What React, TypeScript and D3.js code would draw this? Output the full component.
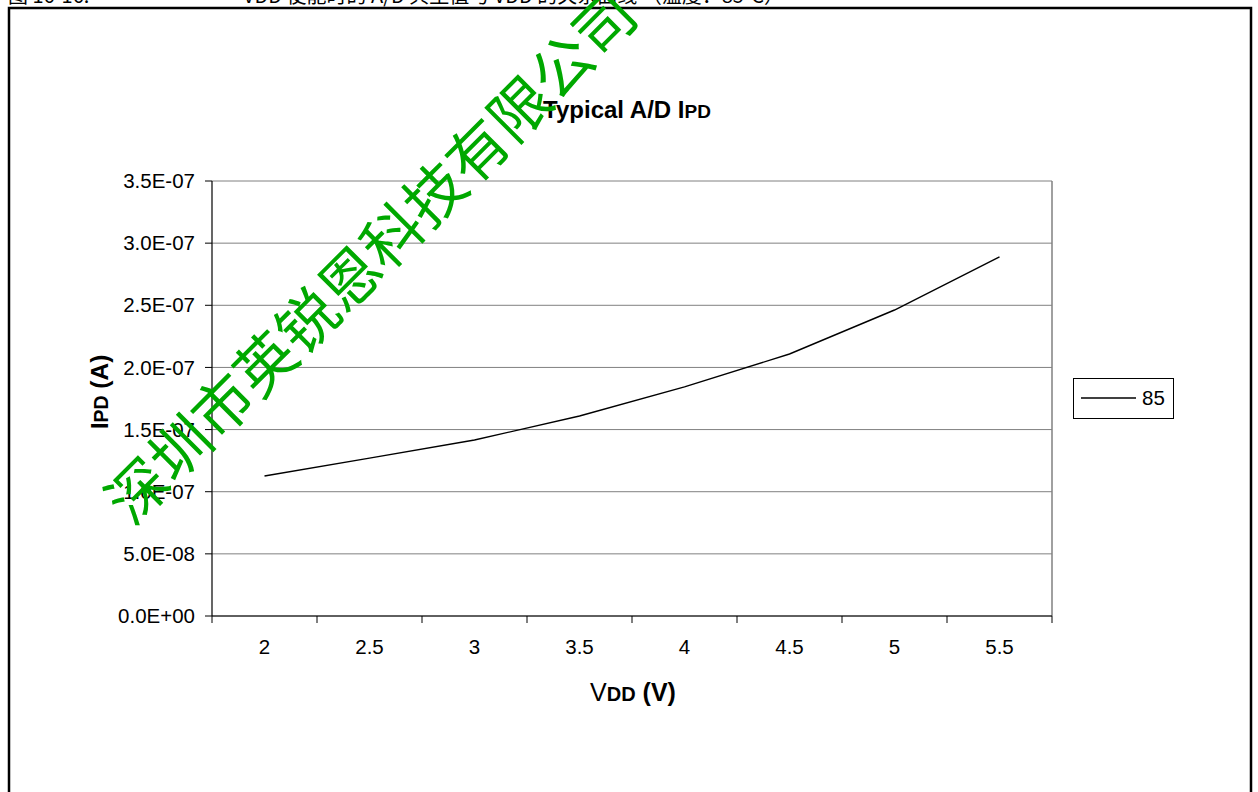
import React from "react";
import * as d3 from "d3";

const categories = ["2", "2.5", "3", "3.5", "4", "4.5", "5", "5.5"];
const series85 = [1.126e-7, 1.27e-7, 1.416e-7, 1.609e-7, 1.843e-7, 2.108e-7, 2.462e-7, 2.889e-7];
const yTicks = [0, 5e-8, 1e-7, 1.5e-7, 2e-7, 2.5e-7, 3e-7, 3.5e-7];
const legendLabel = "85";
const watermark = "深圳市英锐恩科技有限公司";

const W = 1258;
const H = 792;
const plot = { left: 212, right: 1052, top: 181, bottom: 616 };
const font = "Arial, 'Liberation Sans', Helvetica, sans-serif";

function fmt(v: number) {
  return v.toExponential(1).replace(/e([+-])(\d)$/, "E$10$2").replace("e", "E");
}

export default function App() {
  const x = d3.scaleBand<string>().domain(categories).range([plot.left, plot.right]);
  const y = d3.scaleLinear().domain([0, 3.5e-7]).range([plot.bottom, plot.top]);
  const line = d3
    .line<number>()
    .x((_, i) => (x(categories[i]) as number) + x.bandwidth() / 2)
    .y((d) => y(d));

  const tickXs = categories.map((c) => x(c) as number).concat([plot.right]);

  return (
    <svg
      width={W}
      height={H}
      style={{ position: "absolute", left: 0, top: 0, background: "#fff" }}
      fontFamily={font}
    >
      {/* clipped caption at top */}
      <text x={8} y={3} fontSize={20} fontFamily="'Noto Sans CJK SC', sans-serif" fill="#000">
        图 16-16:
      </text>
      <text x={243} y={3} fontSize={20} fontFamily="'Noto Sans CJK SC', sans-serif" fill="#000">
        VDD 使能时的 A/D 典型值与 VDD 的关系曲线 （温度：85°C）
      </text>
      {/* outer frame */}
      <rect x={9} y={8} width={1242} height={800} fill="none" stroke="#000" strokeWidth={2.5} />

      {/* gridlines */}
      {yTicks.map((t) => (
        <line key={"g" + t} x1={plot.left} x2={plot.right} y1={y(t)} y2={y(t)} stroke="#808080" strokeWidth={1} />
      ))}
      {/* right border of plot area */}
      <line x1={plot.right} x2={plot.right} y1={plot.top} y2={plot.bottom} stroke="#808080" strokeWidth={1.5} />

      {/* axes */}
      <line x1={plot.left} x2={plot.left} y1={plot.top} y2={plot.bottom} stroke="#000" strokeWidth={1.2} />
      <line x1={plot.left} x2={plot.right} y1={plot.bottom} y2={plot.bottom} stroke="#000" strokeWidth={1.2} />

      {/* y ticks */}
      {yTicks.map((t) => (
        <g key={"y" + t}>
          <line x1={plot.left - 7} x2={plot.left} y1={y(t)} y2={y(t)} stroke="#000" strokeWidth={1} />
          <text x={195} y={y(t)} dy="0.35em" textAnchor="end" fontSize={20.5} fill="#000">
            {fmt(t)}
          </text>
        </g>
      ))}

      {/* x ticks */}
      {tickXs.map((tx, i) => (
        <line key={"xt" + i} x1={tx} x2={tx} y1={plot.bottom} y2={plot.bottom + 7} stroke="#000" strokeWidth={1} />
      ))}
      {categories.map((c) => (
        <text
          key={"xl" + c}
          x={(x(c) as number) + x.bandwidth() / 2}
          y={647}
          dy="0.35em"
          textAnchor="middle"
          fontSize={20.5}
          fill="#000"
        >
          {c}
        </text>
      ))}

      {/* data line */}
      <path d={line(series85) || ""} fill="none" stroke="#000" strokeWidth={1.4} />

      {/* title */}
      <text x={627} y={110} dy="0.35em" textAnchor="middle" fontSize={24} fontWeight="bold" fill="#000">
        Typical A/D I<tspan fontSize={19}>PD</tspan>
      </text>

      {/* axis titles */}
      <text
        transform={`translate(99,392) rotate(-90)`}
        textAnchor="middle"
        dy="0.35em"
        fontSize={24.5}
        fontWeight="bold"
        fill="#000"
      >
        I<tspan fontSize={19.5}>PD</tspan> (A)
      </text>
      <text x={633} y={692} dy="0.35em" textAnchor="middle" fontSize={25} fill="#000">
        V<tspan fontSize={20} fontWeight="bold">DD</tspan>
        <tspan fontWeight="bold"> (V)</tspan>
      </text>

      {/* legend */}
      <rect x={1073.5} y={378.5} width={100} height={40} fill="#fff" stroke="#000" strokeWidth={1} />
      <line x1={1081} x2={1136} y1={398} y2={398} stroke="#000" strokeWidth={1.5} />
      <text x={1142} y={398} dy="0.35em" fontSize={20.5} fill="#000">
        {legendLabel}
      </text>

      {/* watermark */}
      <text
        transform="translate(372,258) rotate(-45)"
        textAnchor="middle"
        dy="0.35em"
        fontSize={60}
        fontFamily="'Noto Sans CJK SC', sans-serif"
        fontWeight={400}
        fill="#00A800"
      >
        {watermark}
      </text>
    </svg>
  );
}
